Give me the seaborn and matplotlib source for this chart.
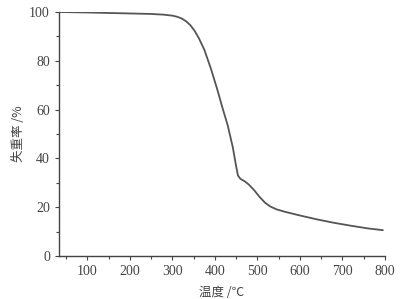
import matplotlib
matplotlib.use("Agg")
import matplotlib.pyplot as plt
import seaborn as sns
import pandas as pd
from matplotlib.ticker import MultipleLocator

# TGA curve
temperature = [33, 100, 200, 250, 280, 300, 312, 322, 332, 342, 352, 362, 375,
               390, 405, 418, 430, 442, 449, 454, 460, 470, 480, 492, 505,
               518, 530, 545, 565, 600, 640, 680, 720, 760, 795]
weight = [100, 99.8, 99.4, 99.2, 98.9, 98.5, 98.0, 97.3, 96.2, 94.6, 92.3, 89.3, 84.5,
          77.0, 68.5, 60.5, 53.5, 44.5, 37.5, 33.0, 31.6, 30.6, 29.2, 27.0, 24.2,
          21.8, 20.3, 19.1, 18.1, 16.6, 15.0, 13.6, 12.4, 11.3, 10.6]
x_label = "温度 /℃"
y_label = "失重率 /%"

sns.set_style("ticks")
plt.rcParams['font.family'] = ['Liberation Serif', 'Noto Sans CJK SC', 'DejaVu Sans']

df = pd.DataFrame({"T": temperature, "W": weight})

fig = plt.figure(figsize=(4.11, 2.99), dpi=100)
ax = fig.add_axes([59 / 411, 1 - 256 / 299, (385 - 59) / 411, (256 - 12) / 299])

sns.lineplot(data=df, x="T", y="W", ax=ax, color="#555555", linewidth=1.3)

ax.set_xlim(33, 800)
ax.set_ylim(0, 100)
ax.xaxis.set_major_locator(MultipleLocator(100))
ax.xaxis.set_minor_locator(MultipleLocator(50))
ax.yaxis.set_major_locator(MultipleLocator(20))
ax.yaxis.set_minor_locator(MultipleLocator(10))

sns.despine(ax=ax)
for s in ("left", "bottom"):
    ax.spines[s].set_color("#444444")
    ax.spines[s].set_linewidth(1.0)

ax.tick_params(which="major", direction="out", length=3, width=0.8,
               colors="#444444", labelsize=10, labelcolor="#444444")
ax.tick_params(which="minor", direction="out", length=2, width=0.8, colors="#444444")

ax.set_xlabel(x_label, family=['Noto Sans CJK SC', 'DejaVu Sans'], fontsize=9,
              color="#444444", labelpad=6)
ax.set_ylabel(y_label, family=['Noto Sans CJK SC', 'DejaVu Sans'], fontsize=9,
              color="#444444", labelpad=3)

fig.savefig("out.png", dpi=100)
